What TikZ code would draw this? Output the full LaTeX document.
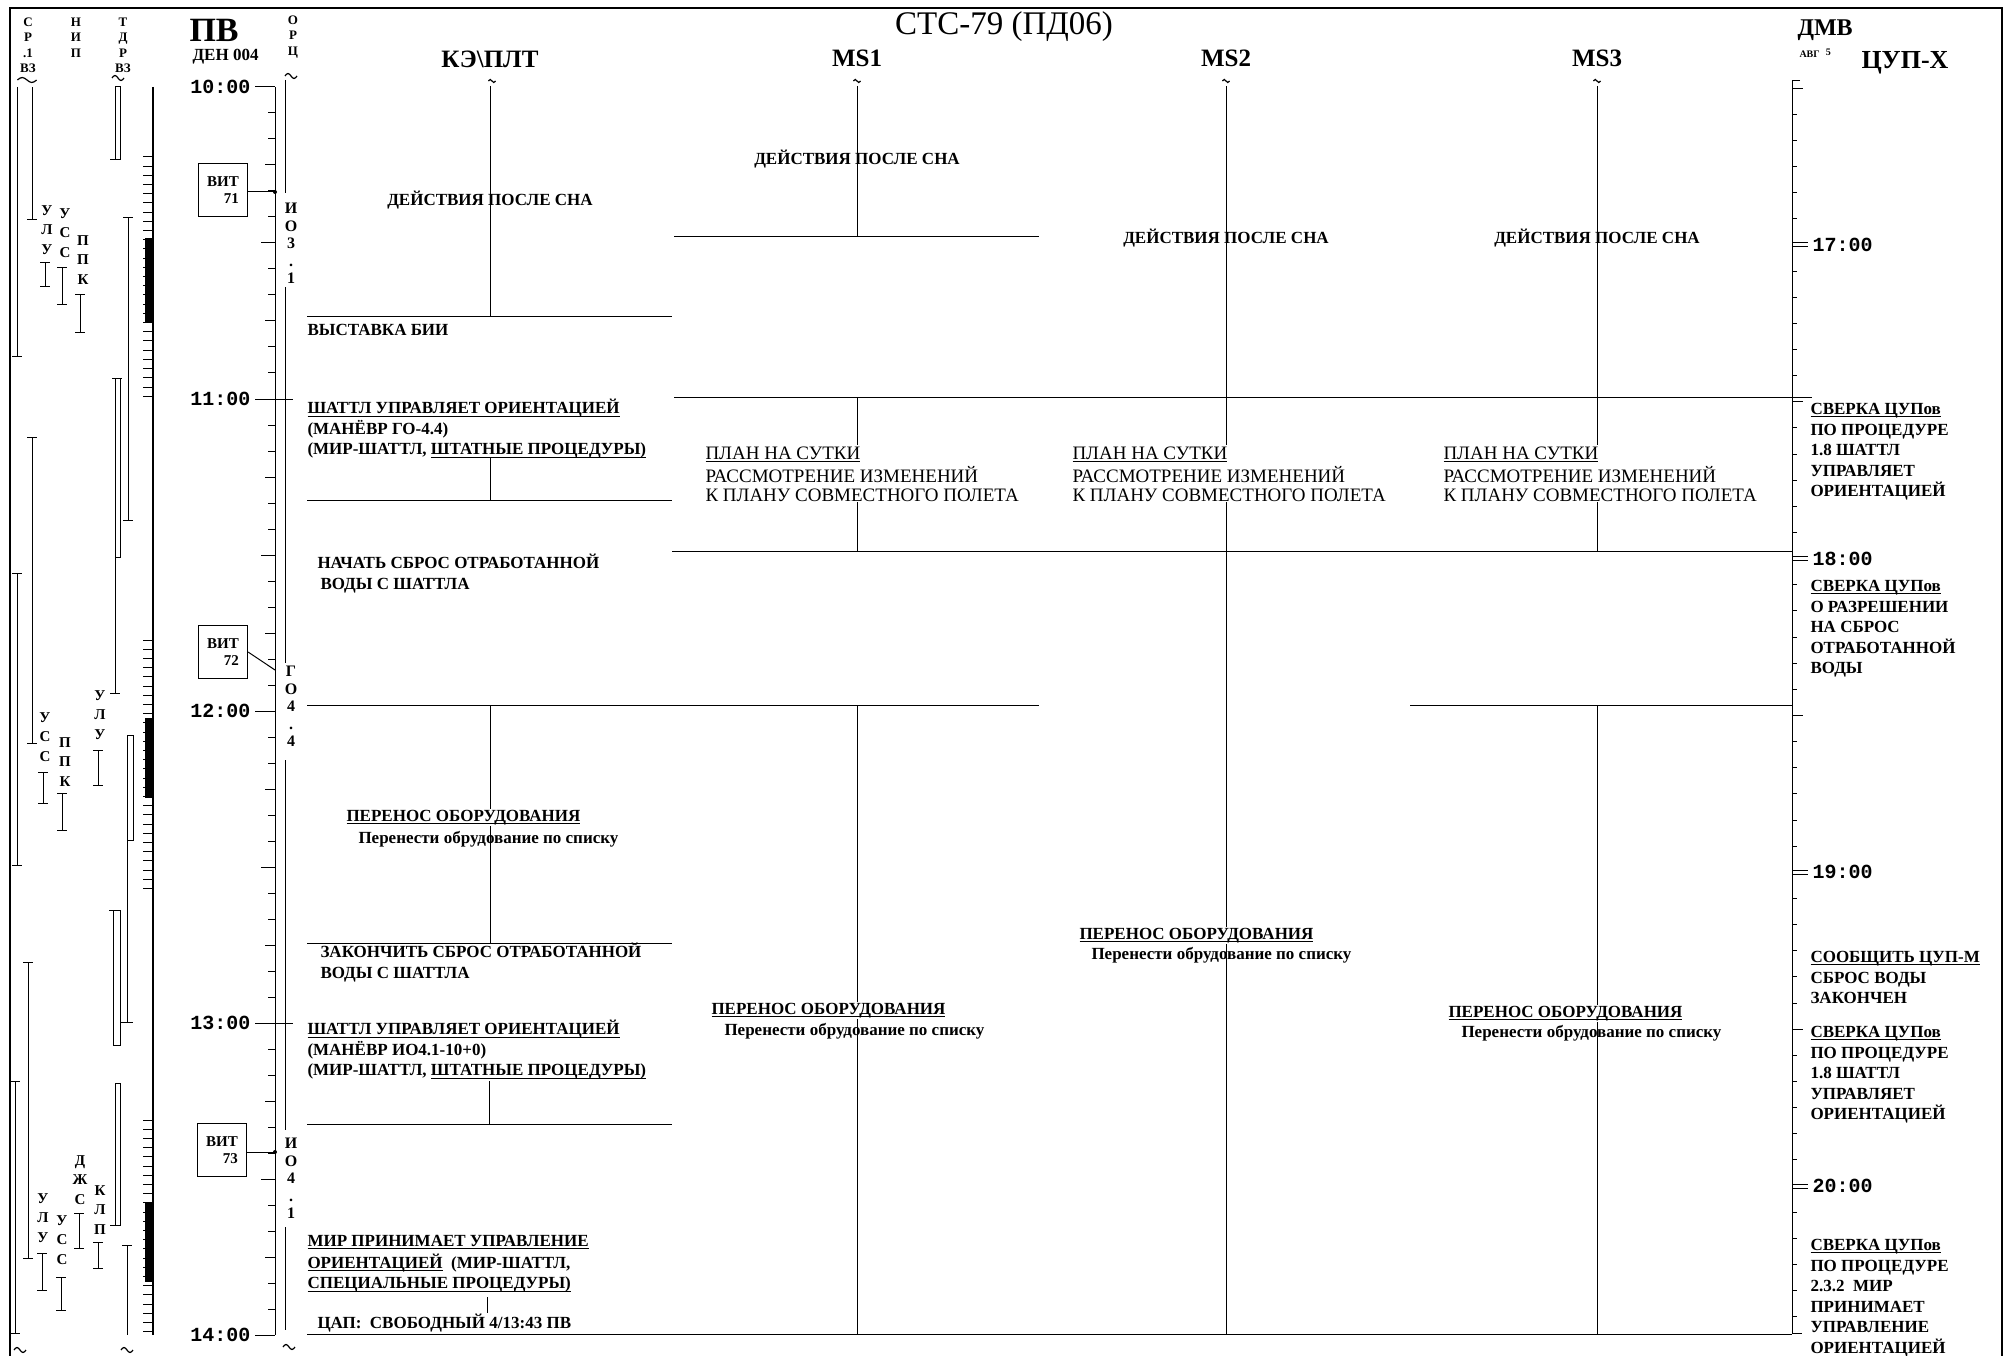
\documentclass[tikz,border=0pt]{standalone}
\usepackage{fontspec}
\setmainfont{Liberation Serif}
\newfontfamily\clockfont{Liberation Mono}
\newsavebox\ulbox
\newcommand\ulin[1]{\sbox\ulbox{#1}\rlap{\rule[-2.4pt]{\wd\ulbox}{0.8pt}}\usebox\ulbox}
\tikzset{squig/.pic={\draw[line width=1.2pt] (-6,0) sin (-3,-2.5) cos (0,0) sin (3,2.5) cos (6,0);}}

\begin{document}
\begin{tikzpicture}[x=1pt,y=-1pt,line width=1pt,
  hd/.style={font=\fontsize{13}{15.5}\selectfont\bfseries,inner sep=0pt,align=center,anchor=north},
  lt/.style={font=\fontsize{15}{19.5}\selectfont\bfseries,inner sep=0pt,align=center,anchor=north},
  orc/.style={font=\fontsize{16}{17.5}\selectfont\bfseries,inner sep=0pt,align=center,anchor=north},
  clk/.style={font=\fontsize{20}{20}\selectfont\clockfont\bfseries,inner sep=0pt},
  vit/.style={draw,line width=1.2pt,font=\fontsize{15}{17}\selectfont\bfseries,align=right,minimum width=49pt,minimum height=53pt,inner sep=4pt},
  colh/.style={font=\fontsize{25}{25}\selectfont\bfseries,inner sep=0pt,anchor=base},
  tb/.style={font=\fontsize{17}{20.5}\selectfont\bfseries,inner sep=0pt,align=left,anchor=north west},
  tn/.style={font=\fontsize{19}{19}\selectfont,inner sep=0pt,align=left,anchor=north west},
  tl/.style={font=\fontsize{17}{20.5}\selectfont\bfseries,inner sep=0pt,anchor=base west},
  tc/.style={tl,anchor=base}]
  \fill[white] (0,0) rectangle (2006,1356);
  \useasboundingbox (0,0) rectangle (2006,1356);
  \draw[line width=1.5pt] (10,1356) -- (10,8) -- (2002,8) -- (2002,1356);

  \node[hd] (srvz) at (28,17) {С\\Р\\.1\\ВЗ};
  \node[hd] (nip) at (76,17) {Н\\И\\П};
  \node[hd] (tdrvz) at (123,17) {Т\\Д\\Р\\ВЗ};
  \node[hd] (orch) at (293,15) {О\\Р\\Ц};
  \pic[xscale=1.6] at (27,80) {squig};
  \pic at (118,78) {squig};
  \pic at (291,76) {squig};
  \pic at (20,1350) {squig};
  \pic at (127,1350) {squig};
  \pic at (289,1347) {squig};

  \foreach \x/\a/\b in {17/87/357, 32/87/220}
    \draw (\x,\a) -- (\x,\b) (\x-5,\b) -- (\x+5,\b);
  \foreach \x/\a/\b in {32/437/743, 17/573/865, 28/962/1258, 15/1081/1333, 45/263/287, 62/268/305, 80/295/333,
      43/772/803, 62/793/830, 98/750/785, 42/1253/1290, 61/1277/1310, 79/1213/1248, 98/1242/1268, 128/218/520}
    \draw (\x,\a) -- (\x,\b) (\x-5,\a) -- (\x+5,\a) (\x-5,\b) -- (\x+5,\b);
  \node[lt] (ulua) at (47,205) {У\\Л\\У};
  \node[lt] (ussa) at (65,208) {У\\С\\С};
  \node[lt] (ppka) at (83,235) {П\\П\\К};
  \node[lt] (ussb) at (45,712) {У\\С\\С};
  \node[lt] (ppkb) at (65,737) {П\\П\\К};
  \node[lt] (ulub) at (100,690) {У\\Л\\У};
  \node[lt] (uluc) at (43,1193) {У\\Л\\У};
  \node[lt] (ussc) at (62,1215) {У\\С\\С};
  \node[lt] (dzhs) at (80,1155) {Д\\Ж\\С};
  \node[lt] (klp) at (100,1185) {К\\Л\\П};

  \draw (115,87) rectangle (120,160) (110,160) -- (120,160);
  \draw (112,378) -- (122,378) (115,378) -- (115,693) (120,378) -- (120,557) -- (115,557) (110,693) -- (120,693);
  \draw (127,735) -- (133,735) -- (133,840) -- (127,840) (127,735) -- (127,1022) (121,1022) -- (133,1022);
  \draw (113,910) rectangle (120,1045) (109,910) -- (113,910);
  \draw (115,1083) rectangle (120,1225) (110,1225) -- (115,1225);
  \draw (127,1245) -- (127,1335) (122,1245) -- (132,1245);

  \draw[line width=1.8pt] (153,87) -- (153,1335);
  \fill (145,238) rectangle (153,322);
  \fill (145,718) rectangle (153,798);
  \fill (145,1202) rectangle (153,1282);
  \foreach \a/\n in {157/26, 640/27, 1120/23}
    \foreach \t in {0,...,\n}
      \draw (143,\a+9.2*\t) -- (153,\a+9.2*\t);

  \node[font=\fontsize{34}{34}\selectfont\bfseries,inner sep=0pt,anchor=base west] (pvh) at (189,42) {ПВ};
  \node[font=\fontsize{17}{17}\selectfont\bfseries,inner sep=0pt,anchor=base west] (den) at (192,61) {ДЕН 004};

  \draw (275,87) -- (275,1335);
  \foreach \k in {0,...,48}{
    \pgfmathtruncatemacro\m{mod(\k,12)}
    \pgfmathtruncatemacro\ty{87+26*\k}
    \pgfmathtruncatemacro\len{\m==6 ? 14 : (mod(\k,3)==0 ? 10 : 7)}
    \ifnum\m>0 \draw (275-\len,\ty) -- (275,\ty); \fi
  }
  \foreach \h/\e in {10/275,11/293,12/275,13/293,14/275}{
    \node[clk,anchor=east] (pv\h) at (251,{87+312*(\h-10)}) {\h:00};
    \draw (pv\h.east) ++(4,0) -- (\e,{87+312*(\h-10)});
  }

  \draw (285,80) -- (285,193) (285,287) -- (285,663) (285,760) -- (285,1130) (285,1227) -- (285,1330);
  \node[orc] (ioa) at (291,203) {И\\О\\3\\.\\1};
  \node[orc] (goa) at (291,666) {Г\\О\\4\\.\\4};
  \node[orc] (iob) at (291,1138) {И\\О\\4\\.\\1};

  \node[vit] (vit71) at (223,190) {ВИТ\\71};
  \node[vit] (vit72) at (223,652) {ВИТ\\72};
  \node[vit] (vit73) at (222,1150) {ВИТ\\73};
  \coordinate (o71) at (275,192);
  \coordinate (o72) at (275,670);
  \coordinate (o73) at (275,1152);
  \draw (vit71.east |- o71) -- (o71);
  \draw (vit72.east) -- (o72);
  \draw (vit73.east |- o73) -- (o73);
  \fill (o71) circle (2) (o73) circle (2);

  \node[font=\fontsize{33}{33}\selectfont,inner sep=0pt,anchor=base] (title) at (1004,35) {СТС-79 (ПД06)};
  \node[colh] (keh) at (490,68) {КЭ\textbackslash ПЛТ};
  \node[colh] (msah) at (857,67) {MS1};
  \node[colh] (msbh) at (1226,67) {MS2};
  \node[colh] (msch) at (1597,67) {MS3};
  \node[font=\fontsize{24}{24}\selectfont\bfseries,inner sep=0pt,anchor=base west] (dmv) at (1797,36) {ДМВ};
  \node[font=\fontsize{10}{10}\selectfont\bfseries,inner sep=0pt,anchor=base west] (avg) at (1799,58) {АВГ\hspace{6pt}\raisebox{2pt}{5}};
  \node[font=\fontsize{26}{26}\selectfont\bfseries,inner sep=0pt,anchor=base west] (cupx) at (1861,69) {ЦУП-Х};
  \foreach \x in {492,857,1226,1597}
    \pic[scale=0.6] at (\x,81) {squig};

  \draw (307,317) -- (672,317);
  \draw (674,237) -- (1039,237);
  \draw (674,397) -- (1812,397);
  \draw (307,500) -- (672,500);
  \draw (672,551) -- (1792,551);
  \draw (307,705) -- (1039,705);
  \draw (1410,705) -- (1792,705);
  \draw (307,943) -- (672,943);
  \draw (307,1124) -- (672,1124);
  \draw (307,1334) -- (1792,1334);

  \draw (490,86) -- (490,317) (490,457) -- (490,500) (490,705) -- (490,943) (489,1081) -- (489,1124) (487,1297) -- (487,1313);
  \draw (857,86) -- (857,237) (857,397) -- (857,445) (857,502) -- (857,551) (857,705) -- (857,1334);
  \draw (1226,86) -- (1226,445) (1226,502) -- (1226,1334);
  \draw (1597,86) -- (1597,445) (1597,502) -- (1597,551) (1597,705) -- (1597,1334);

  \draw (1800,81) -- (1792,81) -- (1792,1333) -- (1802,1333);
  \foreach \k in {-6,...,41}{
    \pgfmathsetmacro\ty{245+26.14*\k}
    \pgfmathtruncatemacro\m{mod(\k+12,12)}
    \ifnum\m=0 \draw (1792,\ty-2) -- (1808,\ty-2) (1792,\ty+2) -- (1808,\ty+2);
    \else\ifnum\m=6 \draw (1792,\ty) -- (1803,\ty); \else \draw (1792,\ty) -- (1797,\ty); \fi\fi
  }
  \foreach \h in {17,...,20}
    \node[clk,anchor=west] (dmv\h) at (1812,{245+313.7*(\h-17)}) {\h:00};

  \node[tc] (kedsn) at (490,206) {ДЕЙСТВИЯ ПОСЛЕ СНА};
  \node[tl] (kevyst) at (307,336) {ВЫСТАВКА БИИ};
  \node[tb] (keshata) at (307,399) {\strut\ulin{ШАТТЛ УПРАВЛЯЕТ ОРИЕНТАЦИЕЙ}\\(МАНЁВР ГО-4.4)\\(МИР-ШАТТЛ, \ulin{ШТАТНЫЕ ПРОЦЕДУРЫ)}};
  \node[tb] (kenach) at (317,554) {\strut НАЧАТЬ СБРОС ОТРАБОТАННОЙ\\\hspace{3pt}ВОДЫ С ШАТТЛА};
  \node[tl,fill=white,inner sep=1pt] (keper) at (345,821) {\ulin{ПЕРЕНОС ОБОРУДОВАНИЯ}};
  \node[tl] (keperb) at (358,843) {Перенести обрудование по списку};
  \node[tb] (kezak) at (320,943) {\strut ЗАКОНЧИТЬ СБРОС ОТРАБОТАННОЙ\\ВОДЫ С ШАТТЛА};
  \node[tb] (keshatb) at (307,1020) {\strut\ulin{ШАТТЛ УПРАВЛЯЕТ ОРИЕНТАЦИЕЙ}\\(МАНЁВР ИО4.1-10+0)\\(МИР-ШАТТЛ, \ulin{ШТАТНЫЕ ПРОЦЕДУРЫ)}};
  \node[tb] (kemir) at (307,1232) {\strut\ulin{МИР ПРИНИМАЕТ УПРАВЛЕНИЕ}\\\ulin{ОРИЕНТАЦИЕЙ}\ \ (МИР-ШАТТЛ,\\\ulin{СПЕЦИАЛЬНЫЕ ПРОЦЕДУРЫ)}};
  \node[tl] (kecap) at (317,1328) {ЦАП:\ \ СВОБОДНЫЙ 4/13:43 ПВ};

  \node[tc] (msadsn) at (857,165) {ДЕЙСТВИЯ ПОСЛЕ СНА};
  \node[tn] (msaplan) at (705,446) {\strut\ulin{ПЛАН НА СУТКИ}\\РАССМОТРЕНИЕ ИЗМЕНЕНИЙ\\К ПЛАНУ СОВМЕСТНОГО ПОЛЕТА};
  \node[tl,fill=white,inner sep=1pt] (msaper) at (710,1014) {\ulin{ПЕРЕНОС ОБОРУДОВАНИЯ}};
  \node[tl] (msaperb) at (724,1035) {Перенести обрудование по списку};

  \node[tc] (msbdsn) at (1226,244) {ДЕЙСТВИЯ ПОСЛЕ СНА};
  \node[tn] (msbplan) at (1072,446) {\strut\ulin{ПЛАН НА СУТКИ}\\РАССМОТРЕНИЕ ИЗМЕНЕНИЙ\\К ПЛАНУ СОВМЕСТНОГО ПОЛЕТА};
  \node[tl,fill=white,inner sep=1pt] (msbper) at (1078,939) {\ulin{ПЕРЕНОС ОБОРУДОВАНИЯ}};
  \node[tl] (msbperb) at (1091,959) {Перенести обрудование по списку};

  \node[tc] (mscdsn) at (1597,244) {ДЕЙСТВИЯ ПОСЛЕ СНА};
  \node[tn] (mscplan) at (1443,446) {\strut\ulin{ПЛАН НА СУТКИ}\\РАССМОТРЕНИЕ ИЗМЕНЕНИЙ\\К ПЛАНУ СОВМЕСТНОГО ПОЛЕТА};
  \node[tl,fill=white,inner sep=1pt] (mscper) at (1447,1017) {\ulin{ПЕРЕНОС ОБОРУДОВАНИЯ}};
  \node[tl] (mscperb) at (1461,1037) {Перенести обрудование по списку};

  \node[tb] (cupa) at (1810,400) {\strut\ulin{СВЕРКА ЦУПов}\\ПО ПРОЦЕДУРЕ\\1.8 ШАТТЛ\\УПРАВЛЯЕТ\\ОРИЕНТАЦИЕЙ};
  \node[tb] (cupb) at (1810,577) {\strut\ulin{СВЕРКА ЦУПов}\\О РАЗРЕШЕНИИ\\НА СБРОС\\ОТРАБОТАННОЙ\\ВОДЫ};
  \node[tb] (cupc) at (1810,948) {\strut\ulin{СООБЩИТЬ ЦУП-М}\\СБРОС ВОДЫ\\ЗАКОНЧЕН};
  \node[tb] (cupd) at (1810,1023) {\strut\ulin{СВЕРКА ЦУПов}\\ПО ПРОЦЕДУРЕ\\1.8 ШАТТЛ\\УПРАВЛЯЕТ\\ОРИЕНТАЦИЕЙ};
  \node[tb] (cupe) at (1810,1236) {\strut\ulin{СВЕРКА ЦУПов}\\ПО ПРОЦЕДУРЕ\\2.3.2\ \ МИР\\ПРИНИМАЕТ\\УПРАВЛЕНИЕ\\ОРИЕНТАЦИЕЙ};
\end{tikzpicture}
\end{document}
